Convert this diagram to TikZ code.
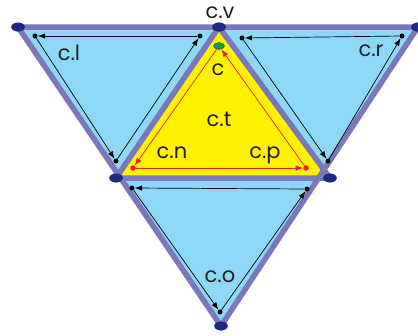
\documentclass[tikz,border=0pt]{standalone}
\usepackage{fontspec}
\setmainfont{Poppins}
\usetikzlibrary{arrows.meta,shapes.geometric}
\definecolor{edgepurple}{HTML}{7A77BA}
\definecolor{lightblue}{HTML}{8DD7F7}
\definecolor{yel}{HTML}{FFF200}
\definecolor{navy}{HTML}{1F2A85}
\definecolor{grn}{HTML}{139A4A}
\definecolor{redc}{HTML}{EE1C24}
\definecolor{txt}{HTML}{231F20}
\tikzset{
  vtx/.style={ellipse,fill=navy,draw=navy!70!black,line width=0.4pt,minimum width=13pt,minimum height=8.5pt,inner sep=0pt},
  gvtx/.style={ellipse,fill=grn,draw=black!70,line width=0.4pt,minimum width=11pt,minimum height=7pt,inner sep=0pt},
  bdot/.style={circle,fill=black,inner sep=0pt,minimum size=5pt},
  rdot/.style={circle,fill=redc,inner sep=0pt,minimum size=5.5pt},
  barrow/.style={-{Latex[length=7.5pt,width=5.5pt]},line width=0.7pt,draw=black},
  rarrow/.style={-{Latex[length=7.5pt,width=5.5pt]},line width=0.7pt,draw=redc},
  edge/.style={draw=edgepurple,line width=5.5pt,line join=miter},
  lbl/.style={anchor=base,text=txt,font=\fontsize{21}{21}\selectfont,inner sep=0pt}
}
\begin{document}
\begin{tikzpicture}[x=1pt,y=-1pt]
\useasboundingbox[fill=white] (0,0) rectangle (418,335);
% corner coordinates
\coordinate (TL) at (18,27);
\coordinate (TC) at (219,27);
\coordinate (TR) at (418,27);
\coordinate (ML) at (116,178);
\coordinate (MR) at (330,178);
\coordinate (B) at (221,326);
% fills
\fill[lightblue] (TL) -- (TR) -- (B) -- cycle;
\fill[yel] (TC) -- (ML) -- (MR) -- cycle;
% edges
\draw[edge] (TL) -- (TR) -- (B) -- cycle;
\draw[edge] (TC) -- (ML) -- (MR) -- cycle;
% vertex ellipses
\node[vtx] (vTL) at (TL) {};
\node[vtx] (vTC) at (TC) {};
\node[vtx] (vTR) at (TR) {};
\node[vtx] (vML) at (ML) {};
\node[vtx] (vMR) at (MR) {};
\node[vtx] (vB) at (B) {};
% left triangle
\node[bdot] (l1) at (35,36) {};
\node[bdot] (l2) at (200,36) {};
\node[bdot] (l3) at (116,161) {};
\draw[barrow] (l2) -- (l1);
\draw[barrow] (l1) -- (l3);
\draw[barrow] (l3) -- (l2);
% right triangle
\node[bdot] (r1) at (242,38) {};
\node[bdot] (r2) at (402,36) {};
\node[bdot] (r3) at (328,161) {};
\draw[barrow] (r2) -- (r1);
\draw[barrow] (r1) -- (r3);
\draw[barrow] (r3) -- (r2);
% bottom triangle
\node[bdot] (o1) at (132,188) {};
\node[bdot] (o2) at (307,189) {};
\node[bdot] (o3) at (220,312) {};
\draw[barrow] (o2) -- (o1);
\draw[barrow] (o1) -- (o3);
\draw[barrow] (o3) -- (o2);
% center triangle
\node[gvtx] (g) at (219,46) {};
\node[rdot] (n1) at (133,168) {};
\node[rdot] (p1) at (306,168) {};
\draw[rarrow] (g) -- (n1);
\draw[rarrow] (n1) -- (p1);
\draw[rarrow] (p1) -- (g);
% labels
\node[lbl] (lv) at (220,18) {c.v};
\node[lbl] (ll) at (69,60) {c.l};
\node[lbl] (lr) at (371,56) {c.r};
\node[lbl] (lc) at (218,75) {c};
\node[lbl] (lt) at (219,126) {c.t};
\node[lbl] (ln) at (172,158) {c.n};
\node[lbl] (lp) at (265,158) {c.p};
\node[lbl] (lo) at (220,282) {c.o};
\end{tikzpicture}
\end{document}
